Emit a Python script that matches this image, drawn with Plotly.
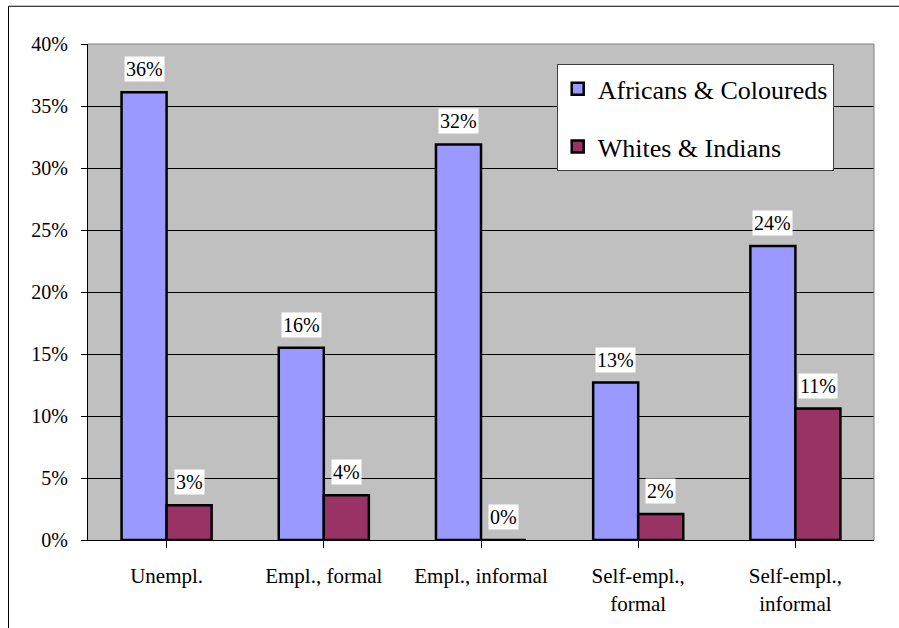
import plotly.graph_objects as go

# Labour-market status shares by population group (percent)
categories = ["Unempl.", "Empl., formal", "Empl., informal",
              "Self-empl.,<br>formal", "Self-empl.,<br>informal"]
africans_coloureds = [36.1, 15.5, 31.9, 12.7, 23.7]
whites_indians = [2.8, 3.6, 0.0, 2.1, 10.6]
series_names = ["Africans & Coloureds", "Whites & Indians"]
y_ticks = [0, 5, 10, 15, 20, 25, 30, 35, 40]

FONT = "Times New Roman, Liberation Serif, DejaVu Serif, serif"
BLUE = "#9999FF"
MAROON = "#993366"

W, H = 899, 628
L, R, T, B = 88, 25, 44, 78

x_idx = list(range(len(categories)))
bargap = 0.427
half = (1 - bargap) / 4  # centre offset of each bar within its group

fig = go.Figure()
for name, vals, col, grp in [(series_names[0], africans_coloureds, BLUE, "a"),
                             (series_names[1], whites_indians, MAROON, "b")]:
    fig.add_trace(go.Bar(
        x=x_idx, y=vals, name=name, legendgroup=grp,
        marker=dict(color=col, line=dict(color="black", width=2.5)),
    ))

# value labels with white boxes above each bar
for vals, off in [(africans_coloureds, -half), (whites_indians, half)]:
    for i, v in enumerate(vals):
        fig.add_annotation(
            x=i + off, y=v, xref="x", yref="y",
            text=f"{round(v)}%", showarrow=False,
            yanchor="bottom", xanchor="center", yshift=10,
            bgcolor="white", borderpad=1,
            font=dict(family=FONT, size=20, color="black"),
        )

# plot-area frame (top and right edges) and outer chart border
fig.add_shape(type="line", xref="paper", yref="paper", x0=0, x1=1, y0=1, y1=1,
              line=dict(color="#808080", width=1), layer="above")
fig.add_shape(type="line", xref="paper", yref="paper", x0=1, x1=1, y0=0, y1=1,
              line=dict(color="#808080", width=1), layer="above")
pw, ph = W - L - R, H - T - B
fig.add_shape(type="rect", xref="paper", yref="paper",
              x0=(8.5 - L) / pw, x1=(W + 20 - L) / pw,
              y0=-(H + 20 - T - ph) / ph, y1=(ph + T - 5.5) / ph,
              line=dict(color="black", width=1), layer="below")

fig.update_layout(
    width=W, height=H,
    margin=dict(l=L, r=R, t=T, b=B, pad=0),
    paper_bgcolor="white", plot_bgcolor="#C0C0C0",
    barmode="group", bargap=bargap, bargroupgap=0,
    font=dict(family=FONT, color="black"),
    showlegend=True,
    legend=dict(
        x=(556.7 - L) / pw, y=(H - B - 64.7) / ph,
        xanchor="left", yanchor="top",
        bgcolor="white", bordercolor="#404040", borderwidth=1,
        font=dict(family=FONT, size=26, color="black"),
        traceorder="grouped", tracegroupgap=21,
        entrywidth=243, entrywidthmode="pixels",
    ),
)

fig.update_xaxes(
    range=[-0.5, len(categories) - 0.5],
    tickmode="array", tickvals=x_idx, ticktext=categories,
    tickson="boundaries", ticks="outside", ticklen=7, tickcolor="black",
    showline=True, linecolor="black", linewidth=1,
    showgrid=False, zeroline=False,
    tickfont=dict(family=FONT, size=21, color="black"),
    ticklabelstandoff=10,
)
fig.update_yaxes(
    range=[0, 40],
    tickmode="array", tickvals=y_ticks, ticktext=[f"{t}%" for t in y_ticks],
    ticks="outside", ticklen=6, tickcolor="black",
    showline=True, linecolor="black", linewidth=1,
    showgrid=True, gridcolor="black", gridwidth=1, zeroline=False,
    tickfont=dict(family=FONT, size=20, color="black"),
    ticklabelstandoff=9,
)

fig.write_html("out.html")
